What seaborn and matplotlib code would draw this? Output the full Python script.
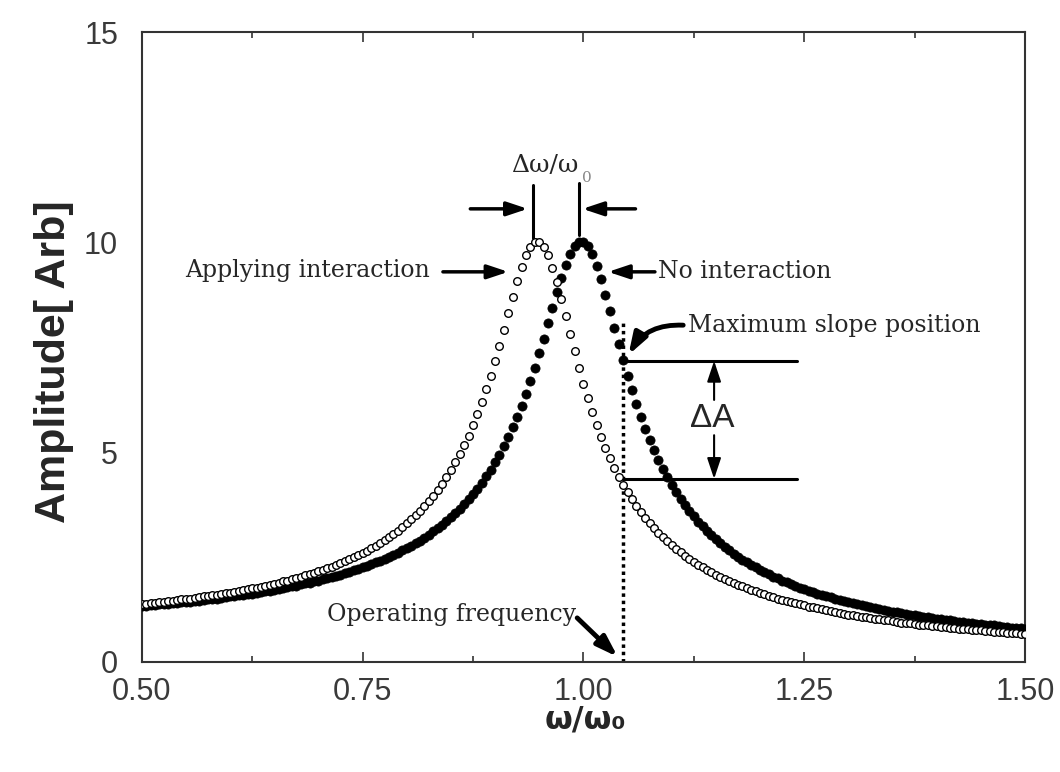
import numpy as np
import pandas as pd
import matplotlib
matplotlib.use('Agg')
import matplotlib.pyplot as plt
import seaborn as sns

# sampling grid of the frequency sweep (w / w0), one marker every 0.005
omega_ratio = np.round(np.arange(0.5, 1.5001, 0.005), 3)

# amplitude (no interaction)
no_interaction = [
    1.33, 1.34, 1.35, 1.36, 1.37, 1.38, 1.39, 1.40, 1.41, 1.42, 1.43, 1.44, 1.45, 1.46, 1.48, 1.49, 1.50, 1.51, 1.53, 1.54,
    1.56, 1.57, 1.59, 1.60, 1.62, 1.63, 1.65, 1.67, 1.68, 1.70, 1.72, 1.74, 1.76, 1.78, 1.80, 1.82, 1.85, 1.87, 1.89, 1.92,
    1.94, 1.97, 2.00, 2.02, 2.05, 2.08, 2.12, 2.15, 2.18, 2.22, 2.25, 2.29, 2.33, 2.37, 2.41, 2.46, 2.50, 2.55, 2.60, 2.66,
    2.71, 2.77, 2.83, 2.89, 2.96, 3.03, 3.11, 3.18, 3.27, 3.35, 3.45, 3.54, 3.65, 3.76, 3.87, 4.00, 4.13, 4.27, 4.42, 4.58,
    4.76, 4.94, 5.14, 5.36, 5.59, 5.83, 6.10, 6.38, 6.68, 7.01, 7.35, 7.70, 8.07, 8.44, 8.80, 9.15, 9.46, 9.72, 9.90, 10.00,
    10.00, 9.90, 9.71, 9.44, 9.12, 8.75, 8.36, 7.96, 7.57, 7.18, 6.82, 6.47, 6.14, 5.84, 5.55, 5.29, 5.04, 4.81, 4.60, 4.40,
    4.22, 4.05, 3.89, 3.74, 3.60, 3.47, 3.34, 3.23, 3.12, 3.02, 2.92, 2.83, 2.74, 2.66, 2.58, 2.51, 2.44, 2.37, 2.31, 2.25,
    2.19, 2.14, 2.09, 2.03, 1.99, 1.94, 1.90, 1.85, 1.81, 1.77, 1.74, 1.70, 1.66, 1.63, 1.60, 1.57, 1.54, 1.51, 1.48, 1.45,
    1.42, 1.40, 1.37, 1.35, 1.33, 1.30, 1.28, 1.26, 1.24, 1.22, 1.20, 1.18, 1.16, 1.14, 1.13, 1.11, 1.09, 1.08, 1.06, 1.05,
    1.03, 1.02, 1.00, 0.99, 0.97, 0.96, 0.95, 0.94, 0.92, 0.91, 0.90, 0.89, 0.88, 0.87, 0.85, 0.84, 0.83, 0.82, 0.81, 0.80,
    0.79,
]

# amplitude (applying interaction)
applying_interaction = [
    1.38, 1.39, 1.40, 1.41, 1.42, 1.44, 1.45, 1.46, 1.47, 1.49, 1.50, 1.51, 1.53, 1.54, 1.56, 1.57, 1.59, 1.60, 1.62, 1.64,
    1.65, 1.67, 1.69, 1.71, 1.73, 1.75, 1.77, 1.79, 1.82, 1.84, 1.86, 1.89, 1.92, 1.94, 1.97, 2.00, 2.03, 2.06, 2.09, 2.13,
    2.16, 2.20, 2.23, 2.27, 2.31, 2.36, 2.40, 2.45, 2.49, 2.55, 2.60, 2.65, 2.71, 2.77, 2.84, 2.90, 2.98, 3.05, 3.13, 3.21,
    3.30, 3.40, 3.50, 3.60, 3.72, 3.84, 3.96, 4.10, 4.25, 4.41, 4.57, 4.76, 4.95, 5.16, 5.39, 5.64, 5.90, 6.18, 6.49, 6.82,
    7.17, 7.53, 7.91, 8.30, 8.69, 9.06, 9.40, 9.68, 9.89, 10.00, 10.00, 9.89, 9.69, 9.39, 9.04, 8.65, 8.23, 7.81, 7.40, 7.01,
    6.63, 6.28, 5.95, 5.64, 5.36, 5.09, 4.85, 4.62, 4.41, 4.22, 4.04, 3.87, 3.72, 3.57, 3.43, 3.31, 3.19, 3.08, 2.97, 2.87,
    2.78, 2.69, 2.61, 2.53, 2.46, 2.38, 2.32, 2.25, 2.19, 2.14, 2.08, 2.03, 1.98, 1.93, 1.88, 1.84, 1.80, 1.76, 1.72, 1.68,
    1.64, 1.61, 1.57, 1.54, 1.51, 1.48, 1.45, 1.42, 1.40, 1.37, 1.35, 1.32, 1.30, 1.28, 1.25, 1.23, 1.21, 1.19, 1.17, 1.15,
    1.13, 1.11, 1.10, 1.08, 1.06, 1.05, 1.03, 1.02, 1.00, 0.99, 0.97, 0.96, 0.94, 0.93, 0.92, 0.91, 0.89, 0.88, 0.87, 0.86,
    0.85, 0.84, 0.83, 0.82, 0.80, 0.79, 0.78, 0.78, 0.77, 0.76, 0.75, 0.74, 0.73, 0.72, 0.71, 0.71, 0.70, 0.69, 0.68, 0.67,
    0.67,
]

x_ticks = [0.5, 0.75, 1.0, 1.25, 1.5]
x_tick_labels = ['0.50', '0.75', '1.00', '1.25', '1.50']
x_minor_ticks = [0.625, 0.875, 1.125, 1.375]
y_ticks = [0, 5, 10, 15]
y_tick_labels = ['0', '5', '10', '15']

operating_freq = 1.045
slope_levels = [7.17, 4.36]  # amplitude of the two curves at the operating frequency

df = pd.concat([
    pd.DataFrame({'w': omega_ratio, 'amp': no_interaction, 'state': 'No interaction'}),
    pd.DataFrame({'w': omega_ratio, 'amp': applying_interaction, 'state': 'Applying interaction'}),
], ignore_index=True)

sns.set_style('ticks')
plt.rcParams['font.family'] = ['Liberation Sans', 'DejaVu Sans']
plt.rcParams['axes.linewidth'] = 1.5
plt.rcParams['axes.edgecolor'] = '#333333'

fig = plt.figure(figsize=(10.6, 7.72), dpi=100)
ax = fig.add_axes([0.1337, 0.1425, 0.8333, 0.816])

sns.scatterplot(data=df[df['state'] == 'No interaction'], x='w', y='amp', ax=ax,
                marker='o', s=44, color='black', edgecolor='black', linewidth=0.5,
                legend=False, zorder=3)
sns.scatterplot(data=df[df['state'] == 'Applying interaction'], x='w', y='amp', ax=ax,
                marker='o', s=30, color='white', edgecolor='black', linewidth=1.0,
                legend=False, zorder=4)

ax.set_xlim(0.5, 1.5)
ax.set_ylim(0, 15)
ax.set_xticks(x_ticks)
ax.set_xticklabels(x_tick_labels)
ax.set_xticks(x_minor_ticks, minor=True)
ax.set_yticks(y_ticks)
ax.set_yticklabels(y_tick_labels)
ax.tick_params(axis='x', which='both', direction='in', top=True, width=1.2, color='#333333',
               labelsize=22, labelcolor='#3a3a3a', pad=11)
ax.tick_params(axis='x', which='major', length=7)
ax.tick_params(axis='x', which='minor', length=4)
ax.tick_params(axis='y', length=0, labelsize=22, labelcolor='#3a3a3a', pad=17)
ax.set_xlabel('')
ax.set_ylabel('')

fig.text(0.051, 0.531, 'Amplitude[ Arb]', rotation=90, ha='center', va='center',
         fontsize=31, fontweight='bold')
fig.text(0.552, 0.067, 'ω/ω₀', ha='center', va='center', fontsize=23, fontweight='bold',
         family=['DejaVu Sans'])

serif = ['DejaVu Serif']
arrow = dict(arrowstyle='-|>,head_length=0.9,head_width=0.3', lw=2.5, color='black',
             shrinkA=0, shrinkB=0, mutation_scale=14)

# peak separation marker
ax.plot([0.943, 0.943], [10.1, 11.36], color='black', lw=2.2)
ax.plot([0.995, 0.995], [10.17, 11.4], color='black', lw=2.2)
ax.annotate('', xy=(0.937, 10.79), xytext=(0.872, 10.79), arrowprops=arrow)
ax.annotate('', xy=(0.999, 10.79), xytext=(1.059, 10.79), arrowprops=arrow)
ax.text(0.9557, 11.67, 'Δω/ω', ha='center', va='baseline', fontsize=18, family=serif)
ax.text(0.999, 11.42, '0', ha='left', va='baseline', fontsize=11, color='#888888', family=serif)

# curve labels
ax.text(0.549, 9.33, 'Applying interaction', ha='left', va='center', fontsize=17, family=serif)
ax.annotate('', xy=(0.915, 9.29), xytext=(0.841, 9.29), arrowprops=arrow)
ax.text(1.085, 9.29, 'No interaction', ha='left', va='center', fontsize=17, family=serif)
ax.annotate('', xy=(1.028, 9.29), xytext=(1.081, 9.29), arrowprops=arrow)

# operating frequency and slope
ax.plot([operating_freq, operating_freq], [0, 8.1], color='black', lw=2.5, ls=(0, (1, 1.1)))
ax.text(0.71, 1.12, 'Operating frequency', ha='left', va='center', fontsize=17, family=serif)
ax.annotate('', xy=(1.039, 0.12), xytext=(0.993, 1.05),
            arrowprops=dict(arrow, lw=3.5))

ax.text(1.118, 8.02, 'Maximum slope position', ha='left', va='center', fontsize=17, family=serif)
ax.annotate('', xy=(1.051, 7.31), xytext=(1.113, 8.02),
            arrowprops=dict(arrow, lw=3.5, connectionstyle='arc3,rad=0.3'))

for level in slope_levels:
    ax.plot([operating_freq, 1.242], [level, level], color='black', lw=2.2)
ax.annotate('', xy=(1.148, slope_levels[0]), xytext=(1.148, 6.24),
            arrowprops=dict(arrow, lw=1.5))
ax.annotate('', xy=(1.148, slope_levels[1]), xytext=(1.148, 5.40),
            arrowprops=dict(arrow, lw=1.5))
ax.text(1.146, 5.80, 'ΔA', ha='center', va='center', fontsize=24)

fig.savefig('out.png', dpi=100)
